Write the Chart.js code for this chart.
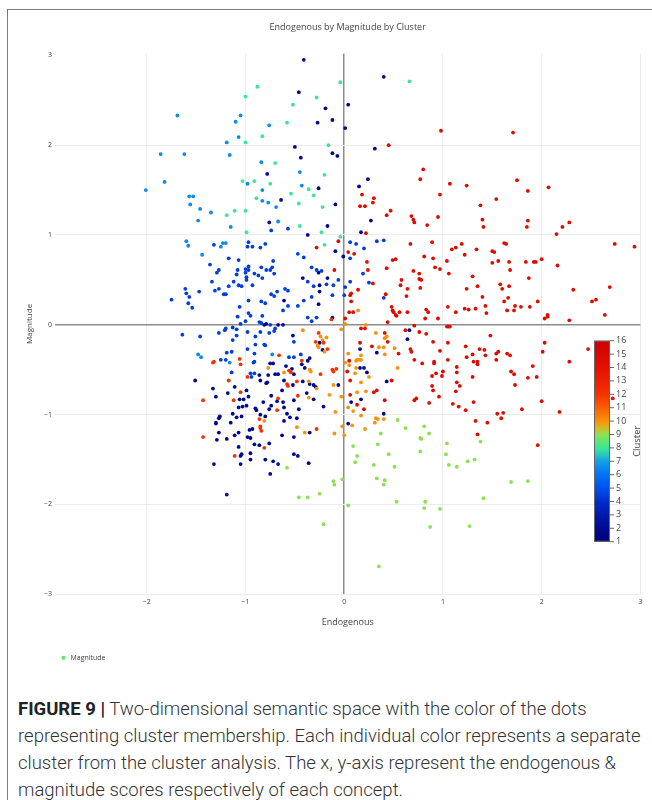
<!DOCTYPE html>
<html>
<head>
<meta charset="utf-8">
<title>Endogenous by Magnitude by Cluster</title>
<script src="https://cdn.jsdelivr.net/npm/chart.js@4.4.1/dist/chart.umd.min.js"></script>
<style>
  html, body { margin: 0; padding: 0; background: #fff; overflow: hidden; }
  #page { position: relative; width: 652px; height: 800px; }
  #frame { position: absolute; left: 7px; top: 9px; right: -2px; bottom: -2px;
           border-left: 1.5px solid #7a7a7a; border-top: 1.5px solid #7a7a7a; }
  #chart { position: absolute; left: 0; top: 0; }
  #caption { position: absolute; left: 18px; top: 696px; width: 634px; white-space: nowrap;
             font-family: Roboto, "Liberation Sans", sans-serif; font-weight: 300; font-size: 18.5px;
             line-height: 27px; letter-spacing: 0; color: #333; }
  #caption b { font-weight: 700; color: #222; }
</style>
</head>
<body>
<div id="page">
  <div id="frame"></div>
  <canvas id="chart" width="652" height="680"></canvas>
  <div id="caption"><b>FIGURE 9 |</b> Two-dimensional semantic space with the color of the dots<br>representing cluster membership. Each individual color represents a separate<br>cluster from the cluster analysis. The x, y-axis represent the endogenous &amp;<br>magnitude scores respectively of each concept.</div>
</div>
<script>
// [endogenous, magnitude] per cluster
const navyPts = [
  [-0.41,2.95],[0.40,2.76],[-0.46,2.59],[0.04,2.45],[-0.19,2.41],[-0.27,2.25],[-0.12,2.28],[0.01,2.19],
  [-0.50,1.98],[0.31,1.96],[-0.12,1.91],[-0.07,1.88],[-0.44,1.86],[-0.78,1.68],[0.24,1.62],[-0.26,1.52],
  [0.15,1.54],[-0.64,1.39],[-0.09,1.34],[0.27,1.16],[-0.76,1.14],[0.17,1.03],[-0.37,1.00],[-0.17,1.10],
  [-0.09,0.82],[-0.01,0.76],[-0.26,0.58],[-0.42,0.52],[-0.17,0.52],[-0.25,0.44],[-0.25,0.37],[-0.61,0.27],
  [-0.26,0.23],[-0.12,0.08],[-0.81,0.00],[-0.79,0.01],[-0.67,0.00],[-0.62,0.00],[-0.52,-0.12],
  [0.66,-0.06],[0.64,-0.16],[0.16,-0.27],[0.33,-0.31],[0.16,-0.48],[0.20,-0.48],[0.23,-0.53],[0.43,-0.63],
  [0.17,-0.83],[0.07,-0.86],[0.40,-0.99],[0.04,-1.10],
  [-0.25,-0.20],[-0.22,-0.28],[-0.35,-0.37],[-0.37,-0.40],[-0.43,-0.44],[-0.75,-0.43],[-0.72,-0.43],
  [-0.59,-0.46],[-0.53,-0.49],[-0.51,-0.55],[-0.40,-0.48],[-0.86,-0.56],[-0.85,-0.62],[-0.77,-0.56],
  [-0.70,-0.55],[-0.67,-0.55],[-0.78,-0.64],[-0.79,-0.65],[-0.61,-0.62],[-0.52,-0.67],[-0.42,-0.63],
  [-0.35,-0.66],[-0.31,-0.67],[-0.29,-0.69],[-0.06,-0.67],[-1.51,-0.62],[-1.33,-0.71],[-1.11,-0.69],
  [-0.99,-0.73],[-1.18,-0.76],[-1.30,-0.80],[-1.06,-0.83],[-1.02,-0.83],[-0.97,-0.80],[-0.82,-0.86],
  [-0.74,-0.79],[-0.68,-0.85],[-0.62,-0.86],[-0.63,-0.73],[-0.51,-0.84],[-0.38,-0.76],[-0.31,-0.83],
  [-1.07,-0.92],[-1.03,-0.91],[-0.99,-0.90],[-0.90,-0.93],[-0.89,-0.95],[-0.76,-0.94],[-0.74,-0.90],
  [-0.61,-0.92],[-0.46,-0.94],[-0.21,-0.91],[-1.13,-0.99],[-1.26,-1.02],[-1.27,-1.04],[-1.09,-1.03],
  [-1.04,-1.02],[-0.85,-1.00],[-0.80,-1.02],[-0.58,-0.99],[-0.55,-1.03],[-0.48,-1.04],[-0.61,-1.07],
  [-1.30,-1.09],[-1.30,-1.10],[-1.15,-1.09],[-0.93,-1.16],[-0.96,-1.17],[-0.35,-1.20],[-1.27,-1.20],
  [-1.11,-1.23],[-1.07,-1.20],[-1.19,-1.27],[-1.29,-1.28],[-0.98,-1.25],[-0.95,-1.26],[-0.63,-1.23],
  [-0.51,-1.25],[-0.91,-1.33],[-0.86,-1.34],[-0.76,-1.32],[-1.07,-1.36],[-0.95,-1.43],[-1.04,-1.44],
  [-1.05,-1.46],[-0.51,-1.44],[-0.47,-1.46],[-0.95,-1.50],[-0.80,-1.50],[-0.72,-1.52],[-0.36,-1.54],
  [-1.32,-1.55],[-1.05,-1.55],[-0.67,-1.55],[-0.75,-1.66],[-1.19,-1.89]
];
const bluePts = [
  [0.06,0.92],[0.12,0.90],[0.33,0.93],[0.40,0.94],[0.20,0.85],[0.06,0.74],[0.19,0.57],[0.25,0.47],
  [0.06,0.48],[0.01,0.42],[0.40,0.30],
  [-0.74,1.05],[-0.57,1.07],[-1.32,0.89],[-0.97,0.92],[-0.98,0.87],[-0.93,0.87],[-0.85,0.86],[-0.80,0.90],
  [-1.17,0.74],[-1.07,0.72],[-0.47,0.79],[-0.41,0.75],[-1.36,0.67],[-0.72,0.71],[-0.97,0.65],[-1.00,0.62],
  [-0.97,0.61],[-1.08,0.61],[-1.27,0.61],[-1.29,0.58],[-0.84,0.64],[-0.79,0.61],[-0.75,0.61],[-0.73,0.64],
  [-0.71,0.57],[-0.33,0.64],[-0.28,0.61],[-0.23,0.60],[-1.09,0.56],[-1.00,0.58],[-0.91,0.57],[-0.87,0.55],
  [-0.83,0.52],[-0.99,0.53],[-0.99,0.50],[-0.37,0.48],[-0.06,0.50],[-1.34,0.48],[-1.12,0.48],[-1.07,0.44],
  [-1.04,0.43],[-1.17,0.43],[-0.93,0.44],[-0.31,0.43],[-0.18,0.45],[-0.11,0.44],[-1.61,0.40],[-1.27,0.40],
  [-1.31,0.38],[-1.47,0.37],[-0.68,0.37],[-0.60,0.40],[-0.57,0.38],[-1.60,0.35],[-1.22,0.34],[-1.20,0.34],
  [-0.74,0.34],[-0.71,0.32],[-1.57,0.31],[-1.75,0.28],[-0.12,0.33],[0.00,0.33],[-0.33,0.31],[-1.58,0.24],
  [-0.97,0.27],[-0.84,0.26],[-0.80,0.24],[-0.57,0.21],[-0.47,0.21],[-0.41,0.27],[-1.54,0.19],[-1.06,0.20],
  [-0.62,0.16],[-0.97,0.13],[-0.95,0.10],[-1.08,0.09],[-0.83,0.10],[-0.37,0.08],[-0.28,0.08],[-1.00,0.04],
  [-1.05,0.01],[-0.86,0.03],[-0.84,0.02],[-0.75,0.00],[-0.70,-0.04],[-0.33,0.04],[-1.13,-0.03],[-1.21,-0.06],
  [-1.20,-0.04],[-1.09,-0.05],[-1.64,-0.11],[-1.46,-0.13],[-1.27,-0.09],[-1.09,-0.12],[-0.98,-0.08],
  [-0.85,-0.08],[-0.76,-0.09],[-0.71,-0.07],[-0.90,-0.13],
  [-1.13,-0.17],[-0.98,-0.27],[-0.90,-0.22],[-0.81,-0.22],[-0.80,-0.23],[-0.51,-0.19],[-1.14,-0.30],
  [-1.19,-0.31],[-1.25,-0.39],[-1.20,-0.39],[-0.91,-0.32],[-0.91,-0.41],[-0.92,-0.42],[-0.56,-0.36],
  [-0.51,-0.36],[-0.44,-0.33],[-1.14,-0.53],[-0.95,-0.54],[-0.91,-0.54],[-0.94,-0.58]
];
const skyPts = [
  [-1.69,2.33],[-1.05,2.33],[-1.10,2.26],[-1.07,2.09],[-1.19,2.03],[-1.86,1.90],[-1.62,1.90],[-1.16,1.89],
  [-1.82,1.59],[-2.01,1.50],[-1.57,1.43],[-1.53,1.43],[-1.56,1.34],[-1.46,1.29],[-1.35,1.25],[-1.48,1.16],
  [-0.76,2.22],[-0.84,1.81],[-0.45,1.70],[-0.98,1.57],[-0.43,1.55],[-0.83,1.50],[-0.83,1.38],[-0.77,1.36],
  [-0.69,1.31],[-0.67,1.15],[-1.15,1.09],[-1.60,0.93],[-1.58,0.88],[-1.23,0.91],[-1.20,0.91],[-1.25,0.87],
  [-1.44,0.78],[-1.48,-0.33],[-1.45,-0.36],[-1.16,-0.42],[-0.73,-0.33]
];
const tealPts = [
  [-1.03,1.60],[-1.11,1.27],[-1.19,1.22],[-0.88,2.65],[-0.04,2.70],[0.66,2.71],[-1.00,2.54],[-0.28,2.53],
  [-0.52,2.45],[-0.58,2.25],[-0.83,2.10],[-1.00,2.03],[-0.16,2.00],[-0.70,1.80],[-0.20,1.67],[-0.91,1.60],
  [-0.75,1.57],[-0.36,1.51],[-0.54,1.46],[-0.31,1.44],[-0.89,1.41],[-0.46,1.35],[-0.22,1.31],[-1.00,1.27],
  [-0.99,1.03],[-0.45,1.10],[-0.23,1.03],[-0.04,0.98],[-0.20,0.89]
];
const greenPts = [
  [1.04,-1.32],[1.38,-1.30],[1.03,-1.44],[1.06,-1.56],[1.14,-1.58],[1.25,-1.52],[1.32,-1.50],[1.69,-1.75],
  [1.86,-1.74],[1.41,-1.93],[1.27,-2.24],[0.37,-1.21],[0.54,-1.06],[0.62,-1.15],[0.81,-1.13],[0.86,-1.21],
  [0.77,-1.26],[0.78,-1.27],[0.09,-1.35],[0.34,-1.33],[0.77,-1.41],[0.13,-1.46],[0.45,-1.44],[0.11,-1.53],
  [0.30,-1.56],[0.51,-1.58],[0.33,-1.71],[0.41,-1.73],[0.40,-1.78],[0.53,-1.97],[0.82,-1.97],[0.81,-2.04],
  [0.97,-2.05],[0.87,-2.25],[0.04,-2.01],[0.35,-2.69],[-0.11,-1.74],[-0.10,-1.78],[-0.02,-1.72],
  [-0.25,-1.88],[-0.37,-1.92],[-0.46,-1.92],[-0.21,-2.22],[-0.58,-1.59]
];
const orangePts = [
  [0.14,0.16],[0.22,0.00],[0.01,0.01],[0.32,-0.09],[0.43,-0.13],[0.41,-0.15],[0.35,-0.25],[0.40,-0.25],
  [0.51,-0.26],[0.04,-0.32],[0.17,-0.34],[0.41,-0.33],[0.13,-0.39],[0.15,-0.39],[0.17,-0.39],[0.12,-0.40],
  [0.01,-0.42],[0.05,-0.45],[0.12,-0.48],[0.54,-0.48],[0.11,-0.54],[0.25,-0.58],[0.17,-0.64],[0.22,-0.74],
  [0.13,-0.75],[0.04,-0.92],[0.09,-0.96],[0.17,-1.01],[0.32,-1.04],[0.34,-1.05],[0.40,-1.05],[0.31,-1.09],
  [0.08,-1.12],[0.21,-1.16],[-0.42,-0.06],[-0.03,-0.05],[-0.18,-0.14],[-0.24,-0.13],[-0.22,-0.17],
  [-0.27,-0.23],[-0.26,-0.25],[-0.20,-0.30],[-0.61,-0.53],[-0.77,-0.48],[-0.35,-0.50],[-0.34,-0.52],
  [-0.36,-0.63],[-0.28,-0.71],[-0.11,-0.67],[-0.36,-0.81],[-0.15,-0.78],[-0.03,-0.80],[-0.09,-0.97],
  [-0.81,-1.07],[-0.48,-1.14],[-0.02,-1.13],[-0.40,-1.20],[-0.10,-1.21],[0.00,-1.23]
];
const redOrangePts = [
  [-0.13,0.06],[-0.26,-0.09],[-0.29,-0.19],[-0.21,-0.20],[-0.17,-0.27],[-1.32,-0.41],[-1.33,-0.42],
  [-1.06,-0.38],[-1.05,-0.44],[-0.66,-0.34],[-0.43,-0.40],[-0.56,-0.51],[-0.54,-0.53],[-0.24,-0.55],
  [-0.12,-0.50],[-0.11,-0.52],[-0.08,-0.49],[-0.98,-0.58],[-1.17,-0.62],[-0.58,-0.66],[-0.57,-0.68],
  [-0.48,-0.63],[-1.05,-0.75],[-1.43,-0.84],[-1.12,-0.84],[-0.67,-0.82],[-0.47,-0.79],[-0.68,-0.95],
  [-0.86,-1.05],[-0.85,-1.13],[-0.85,-1.15],[-0.28,-1.16],[-0.84,-1.18],[-1.43,-1.25],[-0.81,-1.37],
  [-1.11,-1.46]
];
const redPts = [
  [0.98,2.16],[0.45,2.00],[0.80,1.73],[0.77,1.62],[0.97,1.45],[0.18,1.45],[0.30,1.41],[0.29,1.36],
  [0.16,1.32],[0.21,1.32],[0.47,1.27],[0.43,1.22],[0.68,1.21],[0.70,1.17],[0.95,1.20],[0.71,1.14],
  [0.84,1.11],[0.22,1.02],[0.67,0.90],[0.89,0.92],[0.04,0.81],[0.10,0.79],[0.49,0.72],[0.52,0.73],
  [0.81,0.76],[0.90,0.74],[0.23,0.70],[0.92,0.64],[0.97,0.62],[0.43,0.63],[0.24,0.61],[0.70,0.60],
  [0.76,0.57],[0.76,0.51],[0.78,0.50],[0.58,0.50],[0.57,0.44],[0.64,0.40],[0.29,0.46],[0.14,0.39],
  [0.07,0.35],[0.06,0.33],[0.42,0.34],[0.63,0.32],[0.77,0.41],[0.07,0.26],[0.48,0.20],[0.49,0.16],
  [0.50,0.14],[0.52,0.11],[0.56,0.14],[0.64,0.14],[0.53,0.10],[0.83,0.17],[0.85,0.14],[0.82,0.07],
  [0.95,0.07],[0.05,0.14],[0.09,0.14],[0.01,0.07],[0.44,0.03],[0.71,-0.01],
  [1.71,2.14],[1.07,1.57],[1.24,1.55],[1.75,1.61],[1.86,1.49],[2.07,1.53],[1.54,1.40],[1.38,1.33],
  [1.40,1.17],[1.41,1.09],[1.86,1.16],[1.85,1.09],[2.28,1.14],[2.21,1.09],[2.15,1.01],[1.19,0.90],
  [1.09,0.84],[1.13,0.86],[1.62,0.91],[1.64,0.90],[1.34,0.84],[1.50,0.82],[1.52,0.81],[1.22,0.78],
  [2.74,0.90],[2.94,0.87],[1.04,0.71],[1.56,0.71],[1.50,0.69],[1.67,0.70],[1.84,0.70],[1.92,0.70],
  [1.94,0.70],[2.00,0.73],[1.68,0.61],[2.16,0.66],[1.06,0.57],[1.30,0.54],[1.87,0.52],[1.58,0.45],
  [1.67,0.43],[1.35,0.43],[1.24,0.40],[1.60,0.40],[2.69,0.42],[2.32,0.39],[1.40,0.31],[1.66,0.30],
  [1.62,0.26],[1.96,0.26],[2.51,0.26],[2.55,0.28],[1.05,0.20],[1.22,0.18],[1.26,0.17],[1.33,0.18],
  [1.43,0.21],[1.73,0.21],[1.79,0.20],[1.88,0.20],[1.65,0.16],[1.72,0.16],[1.44,0.13],[1.13,0.14],
  [2.64,0.11],[2.06,0.11],[2.06,0.09],[2.03,0.07],[2.28,0.05],
  [1.04,-0.02],[1.06,-0.02],[1.07,-0.02],[1.48,-0.12],[1.05,-0.20],[1.23,-0.24],[1.37,-0.27],[1.42,-0.28],
  [1.30,-0.33],[1.43,-0.34],[1.24,-0.36],[1.54,-0.32],[1.56,-0.30],[1.65,-0.32],[1.68,-0.34],[2.03,-0.20],
  [2.01,-0.30],[2.47,-0.27],[2.28,-0.41],[1.05,-0.39],[1.31,-0.41],[1.35,-0.41],[1.35,-0.44],[1.54,-0.39],
  [1.14,-0.47],[1.14,-0.53],[1.91,-0.46],[1.69,-0.52],[1.72,-0.55],[1.30,-0.58],[1.86,-0.59],[1.95,-0.58],
  [1.14,-0.64],[1.17,-0.68],[1.73,-0.67],[1.13,-0.74],[1.31,-0.86],[2.00,-0.85],[1.10,-0.88],[1.16,-0.91],
  [1.23,-0.95],[1.80,-0.94],[2.18,-0.97],[1.55,-0.99],[1.61,-0.98],[1.59,-1.04],[1.33,-1.07],[1.45,-1.09],
  [1.35,-1.22],[1.96,-1.34],[2.72,-0.82],
  [0.17,-0.04],[0.21,-0.04],[0.41,-0.09],[0.62,-0.06],[0.76,-0.08],[0.83,-0.10],[0.90,-0.19],[0.44,-0.19],
  [0.16,-0.20],[0.28,-0.24],[0.67,-0.27],[0.68,-0.30],[0.55,-0.32],[0.97,-0.29],[0.05,-0.40],[0.71,-0.39],
  [0.79,-0.43],[0.91,-0.41],[0.91,-0.43],[0.03,-0.52],[0.93,-0.54],[1.00,-0.52],[0.89,-0.57],[0.99,-0.57],
  [0.06,-0.62],[0.48,-0.62],[0.89,-0.68],[0.90,-0.73],[0.96,-0.80],[0.30,-0.75],[0.33,-0.73],[0.06,-0.78],
  [0.41,-0.84],[0.73,-0.82],[0.71,-0.84],[0.86,-0.87],[0.13,-0.89],[0.20,-0.94],
  [-0.06,0.93],[-0.28,0.86],[-0.10,0.61]
];

// cluster number of each group (colour comes from the cluster scale)
const groupClusters = [2, 4.5, 6.5, 8, 9, 10, 12, 14.5];
const groupPoints = [navyPts, bluePts, skyPts, tealPts, greenPts, orangePts, redOrangePts, redPts];

const xTicks = [-2, -1, 0, 1, 2, 3];
const yTicks = [-3, -2, -1, 0, 1, 2, 3];
const clusterTicks = [1, 2, 3, 4, 5, 6, 7, 8, 9, 10, 11, 12, 13, 14, 15, 16];

// colour scale of the cluster bar
const colorStops = [
  [1, [0, 0, 120]], [2, [0, 10, 145]], [3, [0, 25, 172]], [4, [0, 45, 205]], [5, [0, 80, 235]],
  [6, [0, 115, 245]], [7, [20, 160, 230]], [7.5, [40, 200, 190]], [8, [60, 230, 150]],
  [9, [140, 225, 80]], [9.5, [215, 185, 40]], [10, [250, 145, 10]], [11, [250, 95, 0]],
  [12, [245, 50, 0]], [14, [228, 15, 0]], [16, [205, 0, 0]]
];

function rgb(c) { return 'rgb(' + c.map(Math.round).join(',') + ')'; }

function colorAt(v) {
  if (v <= colorStops[0][0]) return rgb(colorStops[0][1]);
  for (let i = 1; i < colorStops.length; i++) {
    const [v1, c1] = colorStops[i];
    if (v <= v1) {
      const [v0, c0] = colorStops[i - 1];
      const t = (v - v0) / (v1 - v0);
      return rgb(c0.map((a, k) => a + (c1[k] - a) * t));
    }
  }
  return rgb(colorStops[colorStops.length - 1][1]);
}

const fmt = v => (v < 0 ? '\u2212' + Math.abs(v) : String(v));
const tickFont = { family: 'Open Sans', size: 7 };

const allPoints = [];
groupPoints.forEach((pts, i) => {
  pts.forEach(p => allPoints.push({ x: p[0], y: p[1], c: groupClusters[i] }));
});

// colour bar drawn on the right, like the plotly one
const colorBar = {
  id: 'colorBar',
  afterDraw(chart) {
    const g = chart.ctx;
    const left = 594, right = 610, top = 340.7, bottom = 541.7;
    const lo = clusterTicks[0], hi = clusterTicks[clusterTicks.length - 1];
    const grad = g.createLinearGradient(0, bottom, 0, top);
    colorStops.forEach(s => grad.addColorStop((s[0] - lo) / (hi - lo), rgb(s[1])));
    g.save();
    g.fillStyle = grad;
    g.fillRect(left, top, right - left, bottom - top);
    g.strokeStyle = '#666';
    g.lineWidth = 1;
    g.strokeRect(left + 0.5, top + 0.5, right - left - 1, bottom - top - 1);
    g.fillStyle = '#444';
    g.font = '9px "Open Sans"';
    g.textAlign = 'left';
    g.textBaseline = 'middle';
    clusterTicks.forEach(t => {
      const y = bottom - (t - lo) / (hi - lo) * (bottom - top);
      g.beginPath();
      g.moveTo(right, y);
      g.lineTo(right + 4, y);
      g.stroke();
      g.fillText(String(t), right + 6, y);
    });
    g.translate(637, (top + bottom) / 2);
    g.rotate(-Math.PI / 2);
    g.textAlign = 'center';
    g.font = '9.5px "Open Sans"';
    g.fillText('Cluster', 0, 0);
    g.restore();
  }
};

const gridColor = c => {
  if (!c.tick) return '#ececec';
  if (c.tick.value === 0) return '#8c8c8c';
  return '#ececec';
};
const gridWidth = c => (c.tick && c.tick.value === 0 ? 1.5 : 1);

new Chart(document.getElementById('chart'), {
  type: 'scatter',
  data: {
    datasets: [{
      label: 'Magnitude',
      data: allPoints,
      pointRadius: 1.9,
      pointHoverRadius: 1.9,
      pointBorderWidth: 0,
      pointBackgroundColor: c => colorAt(c.raw ? c.raw.c : 8.5)
    }]
  },
  options: {
    responsive: false,
    animation: false,
    layout: { padding: { left: 20, right: 11.6, top: 0, bottom: 8.7 } },
    plugins: {
      title: {
        display: true,
        text: 'Endogenous by Magnitude by Cluster',
        fullSize: false,
        color: '#444',
        font: { family: 'Open Sans', size: 9, weight: 'normal' },
        padding: { top: 22, bottom: 20.7 }
      },
      legend: {
        position: 'bottom',
        align: 'start',
        fullSize: false,
        labels: {
          usePointStyle: true,
          boxHeight: 3,
          boxWidth: 7,
          padding: 5,
          color: '#444',
          font: { family: 'Open Sans', size: 7 },
          generateLabels: () => [{
            text: 'Magnitude',
            fillStyle: colorAt(8.5),
            strokeStyle: colorAt(8.5),
            lineWidth: 0,
            pointStyle: 'circle',
            hidden: false,
            datasetIndex: 0,
            fontColor: '#444'
          }]
        }
      },
      tooltip: { enabled: false }
    },
    scales: {
      x: {
        type: 'linear',
        min: -2.93,
        max: 3.0,
        afterBuildTicks: s => { s.ticks = xTicks.map(v => ({ value: v })); },
        afterFit: s => { s.height = 55; },
        ticks: { autoSkip: false, maxRotation: 0, padding: 3, color: '#444', font: tickFont, callback: v => fmt(v) },
        grid: { color: gridColor, lineWidth: gridWidth, drawTicks: false },
        border: { display: false },
        title: {
          display: true, text: 'Endogenous', color: '#444',
          font: { family: 'Open Sans', size: 9 }, padding: { top: 0, bottom: 21 }
        }
      },
      y: {
        type: 'linear',
        min: -3.0,
        max: 3.02,
        afterBuildTicks: s => { s.ticks = yTicks.map(v => ({ value: v })); },
        afterFit: s => { s.width = 35; },
        ticks: { autoSkip: false, padding: 3, color: '#444', font: tickFont, callback: v => fmt(v) },
        grid: {
          color: c => (c.tick && c.tick.value === 3 ? 'rgba(0,0,0,0)' : gridColor(c)),
          lineWidth: gridWidth,
          drawTicks: false
        },
        border: { display: false },
        title: {
          display: true, text: 'Magnitude', color: '#444',
          font: { family: 'Open Sans', size: 8 }, padding: { top: 5, bottom: 0 }
        }
      }
    }
  },
  plugins: [colorBar]
});
</script>
</body>
</html>
